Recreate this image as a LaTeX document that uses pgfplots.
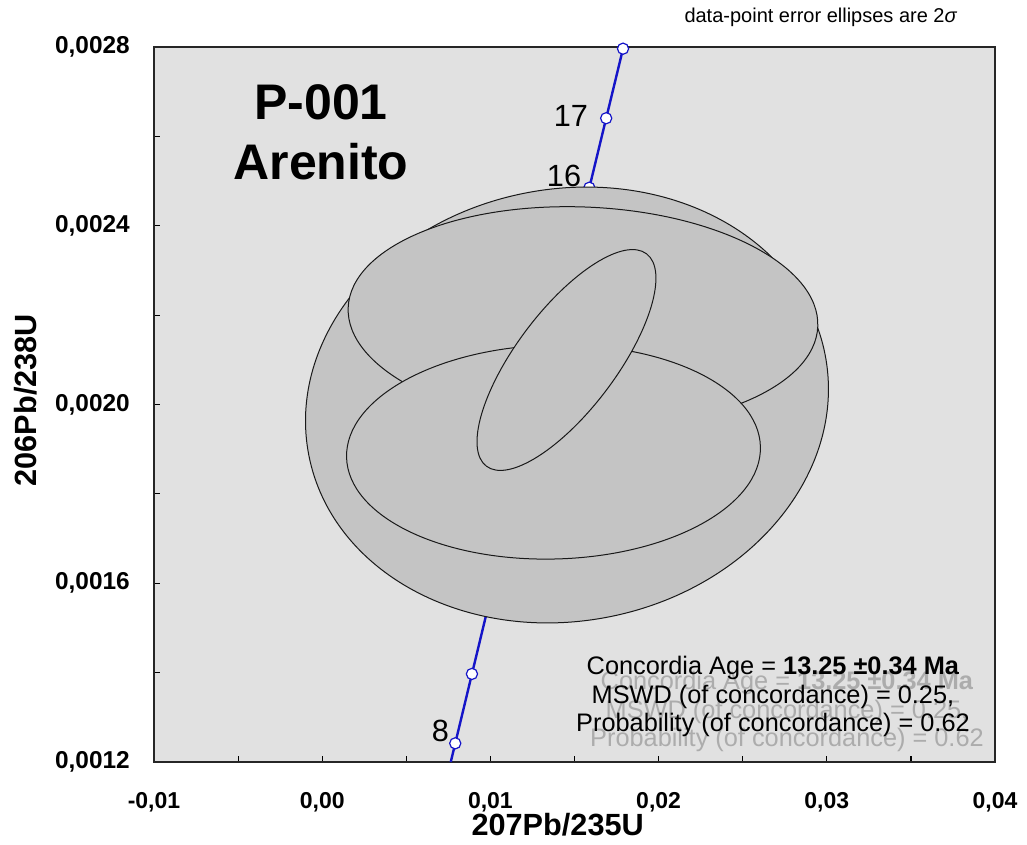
\documentclass[border=0pt]{standalone}
\usepackage{fontspec}
\setmainfont{Liberation Sans}
\usepackage{pgfplots}
\pgfplotsset{compat=1.18}

\definecolor{plotbg}{RGB}{225,225,225}
\definecolor{ellfill}{RGB}{196,196,196}
\definecolor{concblue}{RGB}{20,20,200}
\definecolor{ghost}{RGB}{172,172,172}

\tikzset{ell/.style={fill=ellfill, draw=black!90, line width=0.75pt}}

\begin{document}
\begin{tikzpicture}
\useasboundingbox (-115.5pt,-61.5pt) rectangle (654.75pt,571.5pt);
\begin{axis}[
  at={(0pt,0pt)}, anchor=south west,
  scale only axis, width=630.75pt, height=536.25pt,
  xmin=-0.01, xmax=0.04, ymin=0.0012, ymax=0.0028,
  clip=false, clip marker paths=true,
  scaled x ticks=false, scaled y ticks=false,
  axis background/.style={fill=plotbg},
  axis line style={black!85, line width=1.1pt},
  tick align=inside, tick pos=left,
  major tick length=4.5pt, minor tick length=4.5pt,
  every tick/.style={black, line width=0.9pt},
  xtick={-0.01,0,0.01,0.02,0.03,0.04},
  xticklabels={{-0,01},{0,00},{0,01},{0,02},{0,03},{0,04}},
  minor xtick={-0.005,0.005,0.015,0.025,0.035},
  ytick={0.0012,0.0016,0.0020,0.0024,0.0028},
  yticklabels={{0,0012},{0,0016},{0,0020},{0,0024},{0,0028}},
  minor ytick={0.0014,0.0018,0.0022,0.0026},
  xticklabel style={font=\fontsize{17.25}{20}\selectfont\bfseries, anchor=base, yshift=-34.5pt},
  yticklabel style={font=\fontsize{18.3}{22}\selectfont\bfseries, anchor=east, inner sep=0pt, xshift=-18pt},
  xlabel={207Pb/235U},
  ylabel={206Pb/238U},
  xlabel style={at={(axis description cs:0.48,-0.087)}, anchor=center, font=\fontsize{23}{27}\selectfont\bfseries},
  ylabel style={at={(axis description cs:-0.153,0.506)}, anchor=center, font=\fontsize{23}{27}\selectfont\bfseries},
]

% concordia curve (ages 7.73 to 18 Ma)
\addplot[concblue, line width=1.8pt, no marks] coordinates {
  (0.0076430,0.0012000) (0.0079099,0.0012418) (0.0089030,0.0013971)
  (0.0098972,0.0015525) (0.0108922,0.0017078) (0.0118883,0.0018632)
  (0.0128854,0.0020187) (0.0138834,0.0021741) (0.0148824,0.0023296)
  (0.0158824,0.0024851) (0.0168834,0.0026406) (0.0178853,0.0027962)
};
% age marks every 1 Ma, 8 to 18 Ma
\addplot[only marks, mark=*, mark size=4.2pt,
  mark options={fill=white, draw=concblue, line width=0.9pt}] coordinates {
  (0.0079099,0.0012418) (0.0089030,0.0013971)
  (0.0098972,0.0015525) (0.0108922,0.0017078) (0.0118883,0.0018632)
  (0.0128854,0.0020187) (0.0138834,0.0021741) (0.0148824,0.0023296)
  (0.0158824,0.0024851) (0.0168834,0.0026406) (0.0178853,0.0027962)
};

% data-point error ellipses (2 sigma)
\draw[ell, rotate around={11:(axis cs:0.014553,0.0019989)}]
  (axis cs:0.014553,0.0019989) ellipse [x radius=197.25pt, y radius=162pt];
\draw[ell, rotate around={-2.3:(axis cs:0.015504,0.0021958)}]
  (axis cs:0.015504,0.0021958) ellipse [x radius=176.25pt, y radius=82.5pt];
\draw[ell, rotate around={1.5:(axis cs:0.013751,0.0018937)}]
  (axis cs:0.013751,0.0018937) ellipse [x radius=155.25pt, y radius=80.25pt];
\draw[ell, rotate around={53:(axis cs:0.014523,0.0020996)}]
  (axis cs:0.014523,0.0020996) ellipse [x radius=99.75pt, y radius=37.5pt];

% age labels
\begin{scope}[every node/.style={font=\fontsize{23}{27}\selectfont, inner sep=0pt, anchor=east}]
  \node[xshift=-4.5pt, yshift=9pt] at (axis cs:0.0079099,0.0012418) {8};
  \node[xshift=-6pt, yshift=9pt] at (axis cs:0.0158824,0.0024851) {16};
  \node[xshift=-13.5pt, yshift=1.5pt] at (axis cs:0.0168834,0.0026406) {17};
\end{scope}

% sample name
\node[anchor=base, font=\fontsize{37.5}{45}\selectfont\bfseries] at (rel axis cs:0.1986,0.8979) {P-001};
\node[anchor=base, font=\fontsize{37.5}{45}\selectfont\bfseries] at (rel axis cs:0.1986,0.814) {Arenito};

% concordia age box (with its offset shadow)
\begin{scope}[every node/.style={font=\fontsize{19}{22}\selectfont, anchor=base, inner sep=0pt}]
  \begin{scope}[every node/.append style={text=ghost, xshift=10.5pt, yshift=-11.25pt}]
    \node at (rel axis cs:0.736,0.1217) {Concordia Age = \textbf{13.25 ±0.34 Ma}};
    \node at (rel axis cs:0.736,0.0825) {MSWD (of concordance) = 0.25,};
    \node at (rel axis cs:0.736,0.042) {Probability (of concordance) = 0.62};
  \end{scope}
  \node at (rel axis cs:0.736,0.1217) {Concordia Age = \textbf{13.25 ±0.34 Ma}};
  \node at (rel axis cs:0.736,0.0825) {MSWD (of concordance) = 0.25,};
  \node at (rel axis cs:0.736,0.042) {Probability (of concordance) = 0.62};
\end{scope}

\node[anchor=base, font=\fontsize{15}{18}\selectfont, inner sep=0pt] at (rel axis cs:0.793,1.0336) {data-point error ellipses are 2\textit{σ}};
\end{axis}
\end{tikzpicture}
\end{document}
